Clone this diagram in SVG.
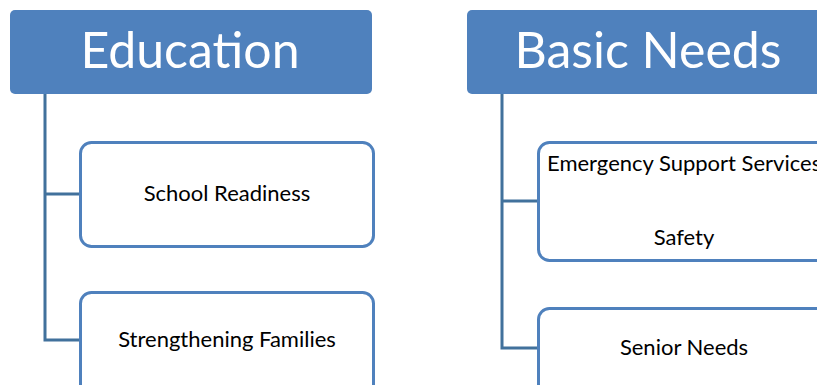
<svg xmlns="http://www.w3.org/2000/svg" width="817" height="385" viewBox="0 0 817 385">
  <style>
    .head { fill: #4f81bd; }
    .head-text { fill: #ffffff; font-family: Lato, "Open Sans", sans-serif; font-size: 50px; text-anchor: middle; }
    .box { fill: #ffffff; stroke: #4f81bd; stroke-width: 3; }
    .box-text { fill: #000000; font-family: Lato, "Open Sans", sans-serif; font-size: 22px; }
    .mid { text-anchor: middle; }
    .conn { fill: none; stroke: #41719c; stroke-width: 3; }
  </style>
  <rect width="817" height="385" fill="#ffffff"/>

  <!-- tree lines from each heading to its items -->
  <g id="connectors">
    <path class="conn" d="M45 94 V340 H81 M45 194 H81"/>
    <path class="conn" d="M502 94 V348 H539 M502 201 H539"/>
  </g>

  <g id="education">
    <rect class="head" x="10" y="10" width="362" height="84" rx="5"/>
    <text class="head-text" x="190" y="68">Education</text>
  </g>

  <g id="school-readiness">
    <rect class="box" x="80.5" y="142.5" width="293" height="104" rx="11"/>
    <text class="box-text mid" x="227" y="201">School Readiness</text>
  </g>

  <g id="strengthening-families">
    <rect class="box" x="80.5" y="292.5" width="293" height="104" rx="11"/>
    <text class="box-text mid" x="227" y="347">Strengthening Families</text>
  </g>

  <g id="basic-needs">
    <rect class="head" x="467" y="10" width="362" height="84" rx="5"/>
    <text class="head-text" x="648" y="68">Basic Needs</text>
  </g>

  <g id="emergency-safety">
    <rect class="box" x="538.5" y="142.5" width="293" height="118" rx="11"/>
    <text class="box-text" x="547" y="171">Emergency Support Services</text>
    <text class="box-text mid" x="684" y="245">Safety</text>
  </g>

  <g id="senior-needs">
    <rect class="box" x="538.5" y="308.5" width="293" height="104" rx="11"/>
    <text class="box-text mid" x="684" y="355">Senior Needs</text>
  </g>
</svg>
